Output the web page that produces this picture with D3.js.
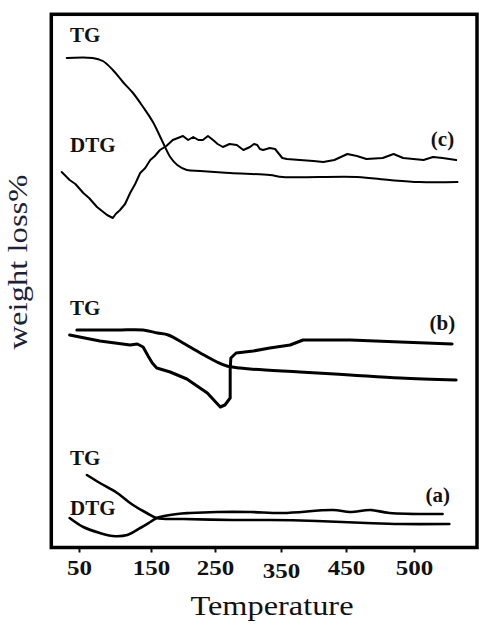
<!DOCTYPE html>
<html>
<head>
<meta charset="utf-8">
<script src="https://cdn.jsdelivr.net/npm/d3@7"></script>
<style>
  html, body { margin: 0; padding: 0; background: #fff; }
  svg { display: block; }
</style>
</head>
<body>
<div id="chart"></div>
<script>
// ---- tick labels (hand-drawn axis: 450 -> 500 gets the same spacing) ----
const xTicks = [50, 150, 250, 350, 450, 500];

// ---- curves: [temperature, signal (arbitrary units)] ----
const tgC = [[33,245],[69,245],[83,243.5],[97,239],[111,233],[125,227.5],[139,220.5],[153,213],[169,202.5],[180,195.5],[191,191.5],[206,189],[227,188.5],[273,187.5],[333,186.5],[353,185.5],[458,185.5],[482,184],[504,183],[532,183]];
const dtgC = [[26,188],[37,184],[45,182],[56,177.5],[64,175],[75,170.5],[89,166.5],[97,165],[101,167],[107,169],[114,172],[121,177.5],[128,182],[135,187.5],[142,190],[149,194],[156,196],[164,199],[174,201],[184,204],[192,205],[200,206],[208,204],[216,205.5],[224,204],[231,204],[239,206],[247,204],[254,202],[262,200.5],[272,202],[283,201.5],[293,199],[303,200.5],[309,202],[314,201.5],[318,199.5],[323,199],[333,200],[341,199.5],[352,195],[359,194.5],[379,194],[400,193.5],[415,193],[432,194],[451,197],[458,196],[465,194.5],[477,195],[485,197],[492,195],[507,194],[514,195.5],[521,195],[531,194]];

const tgB = [[47,109],[103,109],[139,109],[160,107.5],[177,106.5],[200,102.5],[227,97.5],[253,93],[268,91],[288,90],[303,89.5],[379,88],[453,86.5],[490,85],[531,84]];
const dtgB = [[37,106.5],[79,103.5],[121,101.5],[131,102],[139,100.5],[146,96],[152,92.5],[159,90],[180,88],[206,84.5],[238,77.5],[258,70.5],[265,71.5],[273,75],[273,89],[274,95],[282,97.5],[308,98.5],[333,100],[364,101.5],[384,104],[453,104],[490,103],[528,102]];

const tgA = [[61,36.5],[79,32.5],[103,27.5],[125,21.5],[144,17.5],[159,15],[200,14.5],[277,14],[333,14],[405,13.5],[465,12.5],[490,12],[526,12]];
const dtgA = [[37,15],[56,10.5],[79,7.5],[97,6],[117,6.5],[135,10],[149,13],[159,15],[191,17],[211,17.5],[253,18],[303,18],[353,17.5],[430,19],[453,18],[468,19],[482,17.5],[521,17]];

// ---- labels inside the frame ----
const notes = [
  { text: "TG",  t: 50,  v: 253 },
  { text: "DTG", t: 50,  v: 198 },
  { text: "(c)", t: 519, v: 201 },
  { text: "TG",  t: 50,  v: 116.5 },
  { text: "(b)", t: 518, v: 109 },
  { text: "TG",  t: 50,  v: 41.5 },
  { text: "DTG", t: 50,  v: 16.5 },
  { text: "(a)", t: 515, v: 23 }
];

const FONT = "'Liberation Serif'";
const W = 479, H = 624;
const frame = { left: 51.3, top: 14.3, right: 477, bottom: 547.5 };

const svg = d3.select("#chart").append("svg")
  .attr("width", W)
  .attr("height", H);

// piecewise scale so the ticks land where the drawing has them
const x = d3.scaleLinear()
  .domain(xTicks)
  .range([79, 151, 215, 281, 346, 414]);

const y = d3.scaleLinear()
  .domain([0, 267])
  .range([548, 14]);

// frame
svg.append("rect")
  .attr("x", frame.left)
  .attr("y", frame.top)
  .attr("width", frame.right - frame.left)
  .attr("height", frame.bottom - frame.top)
  .attr("fill", "none")
  .attr("stroke", "#000")
  .attr("stroke-width", 3.5);

// bottom axis (ticks only, the frame is the domain line)
svg.append("g")
  .attr("transform", `translate(0,${frame.bottom + 1})`)
  .call(d3.axisBottom(x).tickValues(xTicks).tickSize(4).tickSizeOuter(0).tickPadding(6))
  .attr("font-family", FONT)
  .attr("font-size", 20)
  .call(s => s.select(".domain").remove())
  .call(s => s.selectAll("line").attr("stroke", "#111").attr("stroke-width", 2))
  .call(s => s.selectAll("text")
    .attr("font-family", FONT)
    .attr("font-weight", "bold")
    .attr("fill", "#111")
    .attr("textLength", d => String(d).length * 12.5)
    .attr("lengthAdjust", "spacingAndGlyphs")
    .attr("dy", d => d === 350 ? "0.95em" : "0.8em"));

// curves
const smooth = d3.line().x(d => x(d[0])).y(d => y(d[1])).curve(d3.curveCatmullRom.alpha(0.5));
const rough = d3.line().x(d => x(d[0])).y(d => y(d[1]));

const curves = [
  { data: tgC,  line: smooth, w: 2 },
  { data: dtgC, line: rough,  w: 2 },
  { data: tgB,  line: smooth, w: 3 },
  { data: dtgB, line: rough,  w: 3 },
  { data: tgA,  line: smooth, w: 2.6 },
  { data: dtgA, line: smooth, w: 2.6 }
];

svg.append("g").selectAll("path")
  .data(curves)
  .join("path")
  .attr("d", d => d.line(d.data))
  .attr("fill", "none")
  .attr("stroke", "#000")
  .attr("stroke-width", d => d.w)
  .attr("stroke-linejoin", "round")
  .attr("stroke-linecap", "round");

// curve labels
svg.append("g").selectAll("text")
  .data(notes)
  .join("text")
  .attr("x", d => x(d.t) - 9)
  .attr("y", d => y(d.v))
  .attr("font-family", FONT)
  .attr("font-weight", "bold")
  .attr("font-size", 21)
  .attr("fill", "#111")
  .text(d => d.text);

// axis titles
svg.append("text")
  .attr("x", 272)
  .attr("y", 615)
  .attr("text-anchor", "middle")
  .attr("font-family", FONT)
  .attr("font-size", 27)
  .attr("fill", "#111")
  .attr("textLength", 163)
  .attr("lengthAdjust", "spacingAndGlyphs")
  .text("Temperature");

svg.append("text")
  .attr("transform", "translate(27,262) rotate(-90)")
  .attr("text-anchor", "middle")
  .attr("font-family", FONT)
  .attr("font-size", 27)
  .attr("fill", "#1c2238")
  .attr("textLength", 175)
  .attr("lengthAdjust", "spacingAndGlyphs")
  .text("weight loss%");
</script>
</body>
</html>
